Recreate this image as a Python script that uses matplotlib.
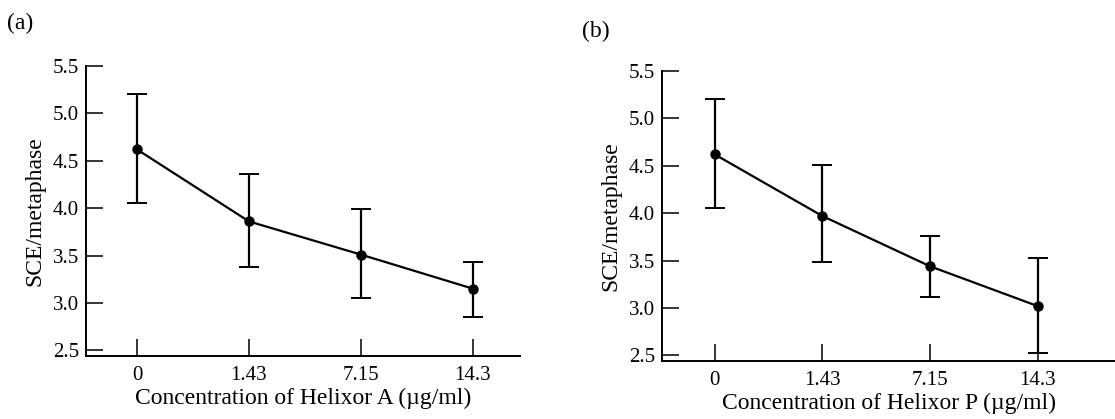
import matplotlib.pyplot as plt
import numpy as np

plt.rcParams['font.family'] = ['Liberation Serif', 'DejaVu Serif']

conc_labels = ['0', '1.43', '7.15', '14.3']

# Helixor A
mean_a = [4.62, 3.86, 3.51, 3.15]
upper_a = [5.20, 4.36, 3.99, 3.43]
lower_a = [4.05, 3.38, 3.05, 2.85]

# Helixor P
mean_p = [4.62, 3.97, 3.44, 3.02]
upper_p = [5.20, 4.51, 3.76, 3.53]
lower_p = [4.05, 3.48, 3.12, 2.52]

yticks = [2.5, 3.0, 3.5, 4.0, 4.5, 5.0, 5.5]


def draw_panel(ax, mean, upper, lower, xlabel, xlim):
    x = np.arange(len(mean))
    mean = np.array(mean)
    yerr = [mean - np.array(lower), np.array(upper) - mean]
    ax.errorbar(x, mean, yerr=yerr, fmt='o-', color='black', lw=1.6,
                ms=6.5, elinewidth=1.6, capsize=7.5, capthick=1.4)
    ax.set_xlim(*xlim)
    ax.set_ylim(2.44, 5.5)
    ax.set_xticks(x)
    ax.set_xticklabels(conc_labels)
    ax.set_yticks(yticks)
    ax.set_yticklabels([f'{v:.1f}' for v in yticks])
    ax.spines['top'].set_visible(False)
    ax.spines['right'].set_visible(False)
    for s in ['left', 'bottom']:
        ax.spines[s].set_linewidth(1.4)
    ax.tick_params(direction='in', length=12, width=1.1, labelsize=15, pad=5)
    ax.tick_params(axis='x', pad=7)
    ax.set_xlabel(xlabel, fontsize=17, labelpad=2)
    ax.set_ylabel('SCE/metaphase', fontsize=17, labelpad=5)


fig = plt.figure(figsize=(11.15, 4.19), dpi=100)
W, H = 1115, 419

ax1 = fig.add_axes([86 / W, 1 - 356 / H, (520 - 86) / W, (356 - 66) / H])
ax2 = fig.add_axes([662 / W, 1 - 361 / H, (1115 - 662) / W, (361 - 71) / H])

draw_panel(ax1, mean_a, upper_a, lower_a,
           'Concentration of Helixor A (\u00b5g/ml)', (-0.455, 3.42))
draw_panel(ax2, mean_p, upper_p, lower_p,
           'Concentration of Helixor P (\u00b5g/ml)', (-0.49, 3.72))

fig.text(7 / W, 1 - 23 / H, '(a)', fontsize=17, va='center')
fig.text(582 / W, 1 - 31 / H, '(b)', fontsize=17, va='center')

fig.savefig('out.png', dpi=100)
